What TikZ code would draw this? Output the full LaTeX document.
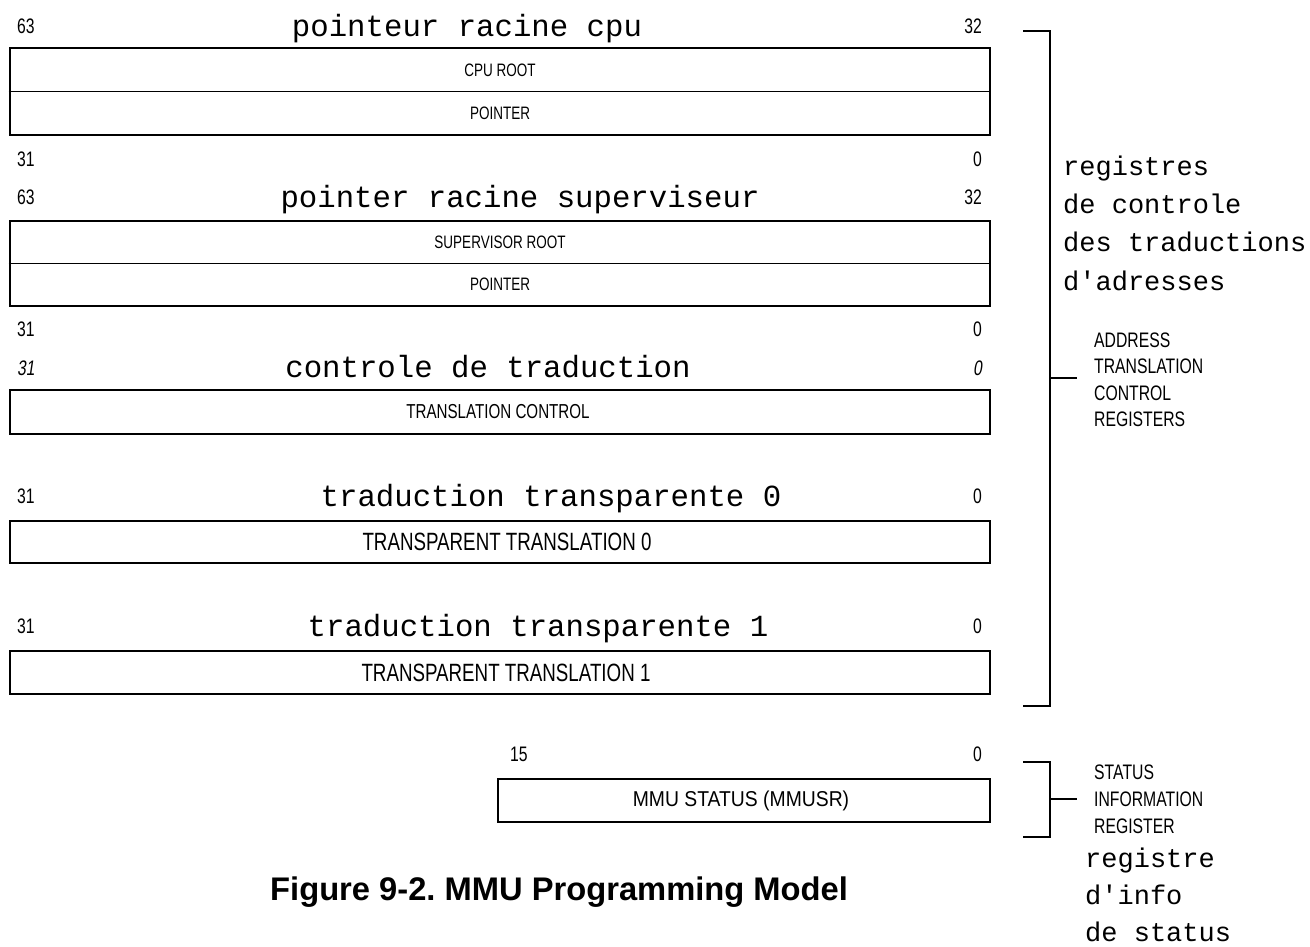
\documentclass[tikz,border=0pt]{standalone}
\usepackage{fontspec}
\setmainfont{Liberation Sans}
\newfontfamily\condfont[FakeStretch=0.75]{Liberation Sans}
\newfontfamily\condslant[FakeStretch=0.75,FakeSlant=0.15]{Liberation Sans}
\newfontfamily\condwide[FakeStretch=0.9]{Liberation Sans}
\newfontfamily\typefont{Liberation Mono}

\begin{document}
\begin{tikzpicture}[x=1pt,y=-1pt,
  frame/.style={draw, line width=2.6pt, inner sep=0pt, minimum width=980pt},
  split/.style={line width=1.6pt},
  brk/.style={line width=2pt},
  bitno/.style={font=\condfont\fontsize{21}{21}\selectfont, inner sep=0pt},
  hibit/.style={bitno, anchor=base west},
  lobit/.style={bitno, anchor=base east},
  field/.style={font=\condfont\fontsize{18}{18}\selectfont, inner sep=0pt},
  title/.style={font=\typefont\fontsize{30.7}{31}\selectfont, inner sep=0pt, anchor=base},
  note/.style={font=\typefont\fontsize{27}{27}\selectfont, inner sep=0pt, anchor=base west},
  tag/.style={font=\condfont\fontsize{21}{21}\selectfont, inner sep=0pt, anchor=base west}
]
\fill[white] (0,0) rectangle (1310,946);
\useasboundingbox (0,0) rectangle (1310,946);

% ---- CPU root pointer (64 bits, two halves)
\node[hibit] (c63) at (17,33) {63};
\node[lobit] (c32) at (982,33) {32};
\node[title] (ctitle) at (467,36.5) {pointeur racine cpu};
\node[frame, minimum height=87pt] (cpu) at (500,91.5) {};
\draw[split] (cpu.west) -- (cpu.east);
\node[field] (cpuhi) at (500,70) {CPU ROOT};
\node[field] (cpulo) at (500,113.5) {POINTER};
\node[hibit] (c31) at (17,166) {31};
\node[lobit] (c0) at (982,166) {0};

% ---- supervisor root pointer
\node[hibit] (s63) at (17,204) {63};
\node[lobit] (s32) at (982,204) {32};
\node[title] (stitle) at (520,207) {pointer racine superviseur};
\node[frame, minimum height=85pt] (sup) at (500,263.5) {};
\draw[split] (sup.west) -- (sup.east);
\node[field] (suphi) at (500,242) {SUPERVISOR ROOT};
\node[field] (suplo) at (500,284.5) {POINTER};
\node[hibit] (s31) at (17,336) {31};
\node[lobit] (s0) at (982,336) {0};

% ---- translation control
\node[hibit, font=\condslant\fontsize{21}{21}\selectfont] (t31) at (17,375) {31};
\node[lobit, font=\condslant\fontsize{21}{21}\selectfont] (t0) at (982,375) {0};
\node[title] (ttitle) at (488,377) {controle de traduction};
\node[frame, minimum height=44pt] (tc) at (500,412) {};
\node[field, font=\condfont\fontsize{20.2}{20}\selectfont] (tctext) at (498,412) {TRANSLATION CONTROL};

% ---- transparent translation 0
\node[hibit] (a31) at (17,503) {31};
\node[lobit] (a0) at (982,503) {0};
\node[title] (atitle) at (551,506) {traduction transparente 0};
\node[frame, minimum height=42pt] (tt0) at (500,542) {};
\node[field, font=\condfont\fontsize{25}{25}\selectfont] (tt0text) at (507,542) {TRANSPARENT TRANSLATION 0};

% ---- transparent translation 1
\node[hibit] (b31) at (17,633) {31};
\node[lobit] (b0) at (982,633) {0};
\node[title] (btitle) at (538,636) {traduction transparente 1};
\node[frame, minimum height=43pt] (tt1) at (500,672.5) {};
\node[field, font=\condfont\fontsize{25}{25}\selectfont] (tt1text) at (506,672.5) {TRANSPARENT TRANSLATION 1};

% ---- MMU status register (16 bits)
\node[hibit] (m15) at (510,761) {15};
\node[lobit] (m0) at (982,761) {0};
\node[frame, minimum width=492pt, minimum height=43pt] (mmu) at (744,800.5) {};
\node[field, font=\condwide\fontsize{21.5}{21}\selectfont] (mmutext) at (741,800.5) {MMU STATUS (MMUSR)};

% ---- bracket: address translation control registers
\coordinate (b1a) at (1023,31);
\coordinate (b1b) at (1050,31);
\coordinate (b1c) at (1050,706);
\coordinate (b1d) at (1023,706);
\coordinate (b1m) at (1050,378);
\coordinate (b1t) at (1077,378);
\draw[brk] (b1a) -- (b1b) -- (b1c) -- (b1d);
\draw[brk] (b1m) -- (b1t);

\node[note] (n1) at (1063,175) {registres};
\node[note] (n2) at (1063,213.3) {de controle};
\node[note] (n3) at (1063,251.6) {des traductions};
\node[note] (n4) at (1063,290) {d'adresses};

\node[tag] (g1) at (1094,347) {ADDRESS};
\node[tag] (g2) at (1094,373.5) {TRANSLATION};
\node[tag] (g3) at (1094,400) {CONTROL};
\node[tag] (g4) at (1094,426.5) {REGISTERS};

% ---- bracket: status information register
\coordinate (b2a) at (1023,762);
\coordinate (b2b) at (1050,762);
\coordinate (b2c) at (1050,837);
\coordinate (b2d) at (1023,837);
\coordinate (b2m) at (1050,799);
\coordinate (b2t) at (1077,799);
\draw[brk] (b2a) -- (b2b) -- (b2c) -- (b2d);
\draw[brk] (b2m) -- (b2t);

\node[tag] (h1) at (1094,779) {STATUS};
\node[tag] (h2) at (1094,806) {INFORMATION};
\node[tag] (h3) at (1094,833) {REGISTER};

\node[note] (k1) at (1085,867) {registre};
\node[note] (k2) at (1085,904) {d'info};
\node[note] (k3) at (1085,941) {de status};

% ---- caption
\node[font=\bfseries\fontsize{32.7}{33}\selectfont, inner sep=0pt, anchor=base west] (cap) at (270,900) {Figure 9-2.\ MMU Programming Model};
\end{tikzpicture}
\end{document}
